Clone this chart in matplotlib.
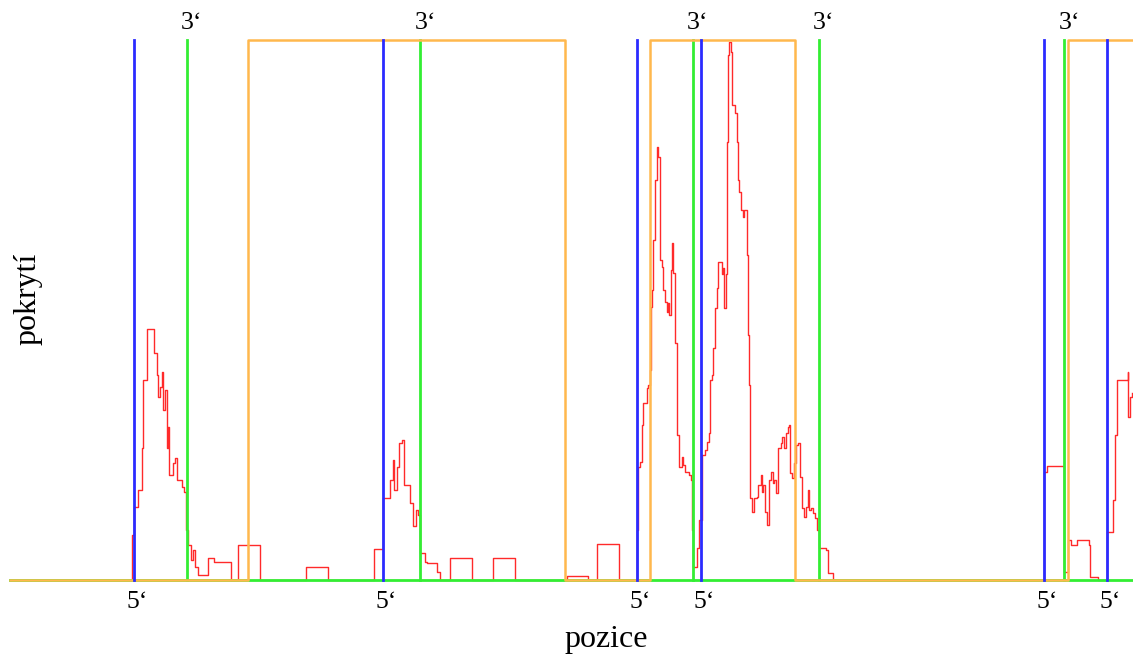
#
# pokryti podle pozice, se znackami 5' a 3' konce
#
import matplotlib.pyplot as plt

# poloha zmeny pokryti a nova hodnota (schodovita krivka)
pos = [10, 132, 134, 137.7, 141.7, 143, 146.7, 154.3, 156.7, 158.3, 160, 161.7, 162.7, 165,
       166.7, 167.7, 169, 173.3, 175, 176.7, 181.7, 184.3, 186, 188.3, 191, 193.3, 195, 197.7,
       208.3, 214.3, 231, 238.3, 260, 305.7, 327.7,
       374.3, 382.7, 390, 392.7, 394.3, 396.7, 399, 401.7, 404.3, 410, 413.3, 416, 418.3, 420,
       425, 427.3, 437.3, 440, 450, 471.7, 493.3, 515, 566.7, 588.3, 596.7, 619,
       637.3, 637.8, 640, 641.7, 643.3, 646.7, 648.3, 650, 650.7, 651.7, 653.3, 655, 656.7, 658.3,
       660, 662.3, 663.3, 665, 666.7, 668.3, 669.3, 670.7, 671.7, 673.3, 675, 676.7, 679.3, 681.7,
       683.3, 685, 689.3, 691, 691.7, 693, 697, 699, 701.7, 702, 705, 706.7, 709, 710, 712.3,
       713.3, 715, 716.7, 718.3, 721.7, 723.3, 724.3, 725.7, 726.7, 727.3, 728.3, 729.3, 730.7,
       732.3, 735, 736.7, 737.7, 739, 740.7, 742.7, 744.3, 746.7, 747.7, 749,
       750, 751.7, 754, 756.7, 758.3, 760.7, 761.7, 763.3, 765, 767.3, 769.3, 770.7, 772.7, 774.3,
       775.7, 778.3, 780.7, 781.7, 784, 785.7, 788.3, 789.3, 790, 791.7, 794, 796, 798.3, 800,
       802.3, 804, 806, 807.7, 808.7, 810.7, 812.7, 815, 817.3, 819, 826, 828.3, 833.3,
       1044.3, 1046.7, 1064, 1068.3, 1070.7, 1077.3, 1089.3, 1090, 1098.3,
       1107.3, 1113.3, 1115, 1116.7, 1127.7, 1128.3, 1130, 1131.7, 1132]
pokryti = [0, 45, 73, 90, 132, 200, 251, 227, 205, 183, 193, 208, 170, 190,
           132, 153, 105, 117, 122, 100, 93, 88, 50, 35, 20, 30, 13, 5,
           22, 18, 0, 35, 0, 13, 0,
           31, 82, 100, 120, 90, 113, 137, 140, 95, 77, 54, 70, 65, 27,
           18, 17, 8, 0, 22, 0, 22, 0, 4, 0, 36, 0,
           50, 113, 118, 155, 177, 192, 195, 210, 273, 290, 340, 400, 433, 423,
           320, 313, 290, 278, 268, 277, 265, 310, 337, 307, 237, 145, 113, 123,
           115, 108, 105, 100, 50, 13, 32, 60, 88, 125, 130, 138, 147, 200, 205,
           232, 272, 292, 318, 306, 312, 272, 306, 375, 438, 525, 538, 528,
           475, 467, 438, 400, 388, 370, 363, 370, 325, 245, 195,
           82, 68, 82, 83, 95, 105, 88, 95, 68, 55, 100, 108, 97, 100,
           87, 132, 137, 143, 132, 147, 153, 155, 107, 102, 117, 135, 137, 103,
           72, 63, 73, 90, 70, 72, 67, 62, 50, 32, 30, 7, 0,
           108, 114, 8, 40, 35, 40, 35, 3, 0,
           48, 80, 145, 200, 208, 163, 183, 187, 187]

# useky (oranzova), 5' a 3' konce
usek_x = [10, 248, 565, 650, 795, 1068, 1133]
usek_y = [0, 1, 0, 1, 0, 1, 1]
konec5 = [134, 383, 637, 701, 1044, 1107]
konec3 = [187, 420, 693, 819, 1064]

H = 540
fig = plt.figure(figsize=(11.33, 6.6), dpi=100)
ax = fig.add_axes([10/1133, 80/660, 1123/1133, 540/660])
ax.set_xlim(10, 1133)
ax.set_ylim(0, H)
ax.axis('off')

ax.step(pos, pokryti, where='post', color='#ff2a2a', lw=1.0, zorder=1, clip_on=False)
ax.plot([10, 1133], [0, 0], color='#33ee33', lw=2, zorder=2, clip_on=False)
for x in konec3:
    ax.plot([x, x], [0, H], color='#33ee33', lw=2, zorder=2, clip_on=False)
    ax.text(x+5, H+17, '3‘', ha='center', va='center', fontsize=18.5,
            family='Liberation Serif')
ax.step(usek_x, [v*H for v in usek_y], where='post', color='#ffb84d', lw=1.8,
        zorder=3, clip_on=False, solid_joinstyle='round')
for x in konec5:
    ax.plot([x, x], [0, H], color='#2b2bff', lw=2, zorder=4, clip_on=False)
    ax.text(x+3, -22, '5‘', ha='center', va='center', fontsize=18.5,
            family='Liberation Serif')

fig.text(606/1133, 1-640/660, 'pozice', ha='center', va='center', fontsize=23,
         family='Liberation Serif')
fig.text(28/1133, 1-299/660, 'pokrytí', ha='center', va='center', fontsize=23,
         rotation=90, family='Liberation Serif')

fig.savefig('out.png', dpi=100)
